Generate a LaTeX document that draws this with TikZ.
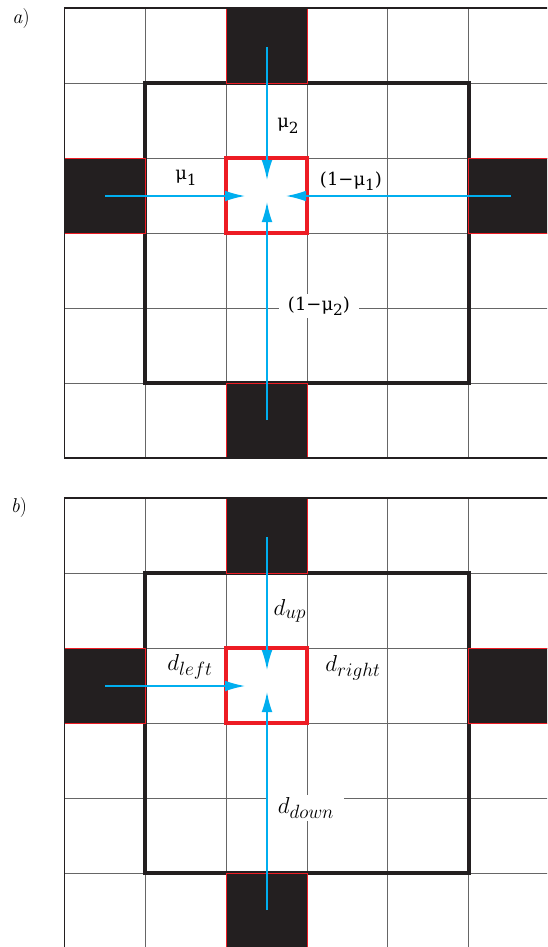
\documentclass[tikz,border=0pt]{standalone}
\usepackage{fontspec}
\usepackage{xcolor}
\usepackage{tikz}
\usetikzlibrary{arrows.meta}
\newfontfamily\lblfont{DejaVu Serif}
\definecolor{flow}{RGB}{0,174,239}
\definecolor{focus}{RGB}{237,28,36}
\definecolor{wall}{RGB}{35,31,32}
\DeclareMathSizes{16}{16}{13.5}{10}
\newcommand{\lowix}[1]{\raisebox{-0.3em}{\fontsize{11.5}{12}\selectfont #1}}

\begin{document}
\begin{tikzpicture}[x=0.75pt,y=-0.75pt,font=\fontsize{15}{17}\selectfont,
  gl/.style={draw=black!60,line width=0.6pt},
  blk/.style={fill=wall,draw=focus,line width=0.5pt},
  zone/.style={draw=wall,line width=3pt},
  frm/.style={draw=wall,line width=1.4pt},
  cell/.style={draw=focus,line width=3pt},
  f/.style={draw=flow,line width=1.1pt,-{Latex[length=15pt,width=8pt]}},
  lbl/.style={inner sep=1pt,font=\lblfont\fontsize{13.5}{15}\selectfont},
  dl/.style={inner sep=1pt,font=\fontsize{16}{18}\selectfont},
  wl/.style={fill=white,inner xsep=7pt,inner ysep=2pt}]
  \useasboundingbox (0,0) rectangle (547,947);
  \clip (0,0) rectangle (547,947);
  % both panels share the same grid
  \foreach \p/\dy in {a/8,b/498}{
    \begin{scope}[shift={(0,\dy)}]
      \foreach \i in {1,...,5}
        \draw[gl] ({64.5+\i*80.8},0) -- ({64.5+\i*80.8},450);
      \foreach \j in {1,...,5}
        \draw[gl] (64.5,\j*75) -- (550,\j*75);
      \draw[zone] (145.3,75) rectangle (468.5,375);
      \draw[blk] (226.1,0) rectangle (306.9,75);
      \draw[blk] (64.5,150) rectangle (145.3,225);
      \draw[blk] (468.5,150) rectangle (550,225);
      \draw[blk] (226.1,375) rectangle (306.9,450);
      \draw[frm] (64.5,0) rectangle (552,450);
      \draw[cell] (226.1,150) rectangle (306.9,225);
      \coordinate (\p-us) at (267,39);   \coordinate (\p-ue) at (267,172);
      \coordinate (\p-ds) at (267,412);  \coordinate (\p-de) at (267,194);
      \coordinate (\p-ls) at (105,188);  \coordinate (\p-le) at (245,188);
      \coordinate (\p-rs) at (511,188);  \coordinate (\p-re) at (286,188);
    \end{scope}
  }
  % panel a
  \node (ta) at (21,19) {\textit{a})};
  \draw[f] (a-us) -- (a-ue);
  \draw[f] (a-ds) -- (a-de);
  \draw[f] (a-ls) -- (a-le);
  \draw[f] (a-rs) -- (a-re);
  \node[lbl] (mu2) at (288,126) {μ\lowix{2}};
  \node[lbl] (mu1) at (186,178) {μ\lowix{1}};
  \node[lbl] (nmu1) at (351,181) {(1−μ\lowix{1})};
  \node[lbl,wl] (nmu2) at (319,306) {(1−μ\lowix{2})};
  % panel b
  \node (tb) at (19,508) {\textit{b})};
  \draw[f] (b-us) -- (b-ue);
  \draw[f] (b-ds) -- (b-de);
  \draw[f] (b-ls) -- (b-le);
  \node[dl] (dup) at (290,611) {$d_{up}$};
  \node[dl] (dleft) at (190,667) {$d_{left}$};
  \node[dl] (dright) at (353,668) {$d_{right}$};
  \node[dl,wl] (ddown) at (306,808) {$d_{down}$};
\end{tikzpicture}
\end{document}
